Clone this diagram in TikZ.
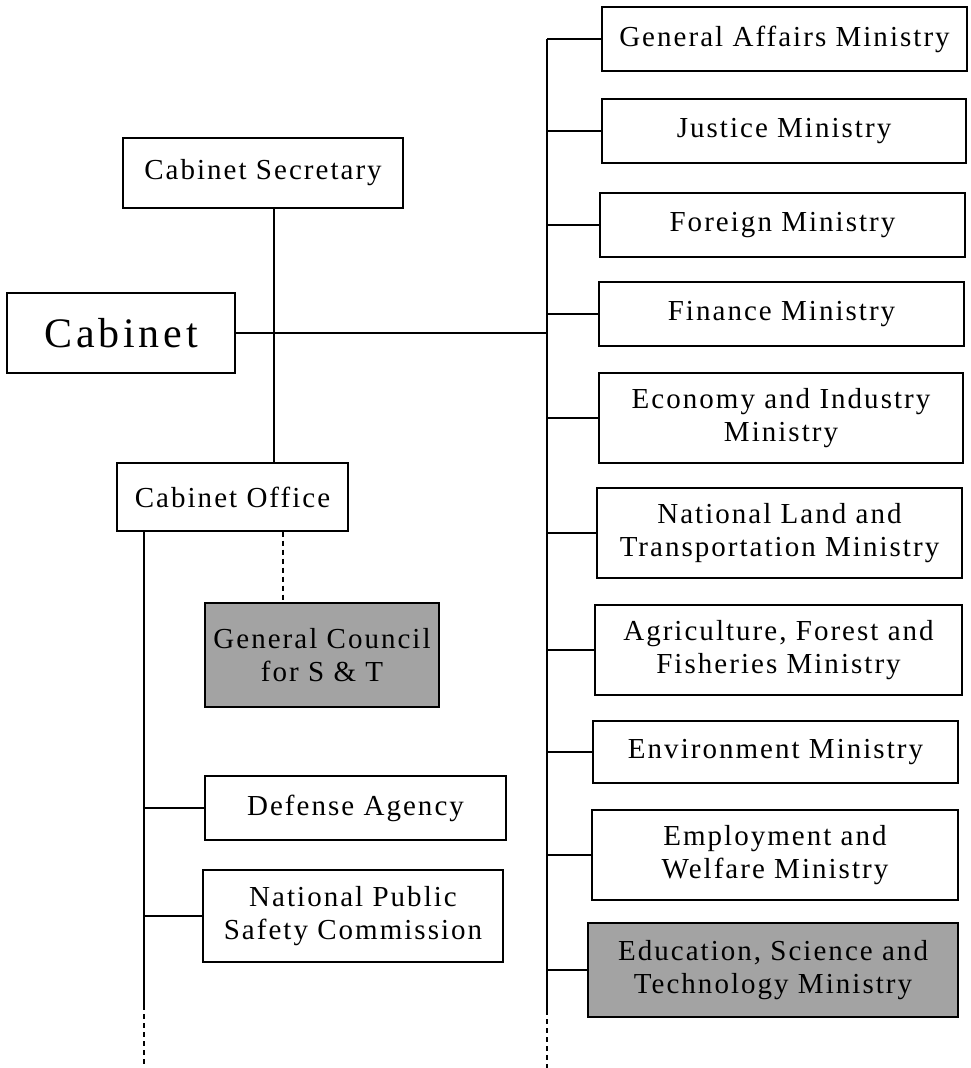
\documentclass[tikz,border=0pt]{standalone}
\usepackage{fontspec}
\setmainfont{Liberation Serif}[LetterSpace=7]
\begin{document}
\begin{tikzpicture}[x=1pt,y=-1pt,
  box/.style={draw, line width=1.4pt, inner sep=0pt, align=center,
    font=\fontsize{29}{33}\selectfont},
  shaded/.style={box, fill=black!36},
  link/.style={line width=1.4pt},
  dlink/.style={link, dash pattern=on 5pt off 4pt}]
\useasboundingbox (0,0) rectangle (971,1068);

% left side: cabinet and its office
\node[box, minimum width=280pt, minimum height=70pt] (sec) at (263,173) {Cabinet Secretary};
\node[box, minimum width=228pt, minimum height=80pt,
  font=\fontsize{42}{46}\selectfont\addfontfeature{LetterSpace=9}] (cab) at (121,333) {Cabinet};
\node[box, minimum width=231pt, minimum height=68pt] (off) at (232.5,497) {Cabinet Office};
\node[shaded, minimum width=234pt, minimum height=104pt] (gc) at (322,655) {General Council\\for S \& T};
\node[box, minimum width=301pt, minimum height=64pt] (def) at (355.5,808) {Defense Agency};
\node[box, minimum width=300pt, minimum height=92pt] (nps) at (353,916) {National Public\\Safety Commission};

% right side: ministries
\node[box, minimum width=365pt, minimum height=64pt] (ga) at (784.5,39) {General Affairs Ministry};
\node[box, minimum width=364pt, minimum height=64pt] (jus) at (784,131) {Justice Ministry};
\node[box, minimum width=365pt, minimum height=64pt] (for) at (782.5,225) {Foreign Ministry};
\node[box, minimum width=365pt, minimum height=64pt] (fin) at (781.5,314) {Finance Ministry};
\node[box, minimum width=364pt, minimum height=90pt] (eco) at (781,418) {Economy and Industry\\Ministry};
\node[box, minimum width=365pt, minimum height=90pt] (nlt) at (779.5,533) {National Land and\\Transportation Ministry};
\node[box, minimum width=367pt, minimum height=90pt] (agr) at (778.5,650) {Agriculture, Forest and\\Fisheries Ministry};
\node[box, minimum width=365pt, minimum height=62pt] (env) at (775.5,752) {Environment Ministry};
\node[box, minimum width=366pt, minimum height=90pt] (emp) at (775,855) {Employment and\\Welfare Ministry};
\node[shaded, minimum width=370pt, minimum height=94pt] (edu) at (773,970) {Education, Science and\\Technology Ministry};

% trunk lines
\coordinate (rt) at (547,0);
\coordinate (rend) at (547,1010);
\coordinate (rfoot) at (547,1068);
\coordinate (lt) at (144,0);
\coordinate (lend) at (144,1005);
\coordinate (lfoot) at (144,1068);
\coordinate (mid) at (274,0);
\coordinate (dx) at (283,0);

\draw[link] (ga.west -| rt) -- (rend);
\draw[dlink] (rend) -- (rfoot);
\foreach \n in {ga,jus,for,fin,eco,nlt,agr,env,emp,edu}
  \draw[link] (\n.west) -- (\n.west -| rt);
\draw[link] (cab.east) -- (cab.east -| rt);

\draw[link] (sec.south -| mid) -- (off.north -| mid);
\draw[dlink] (off.south -| dx) -- (gc.north -| dx);

\draw[link] (off.south -| lt) -- (lend);
\draw[dlink] (lend) -- (lfoot);
\draw[link] (def.west) -- (def.west -| lt);
\draw[link] (nps.west) -- (nps.west -| lt);
\end{tikzpicture}
\end{document}
